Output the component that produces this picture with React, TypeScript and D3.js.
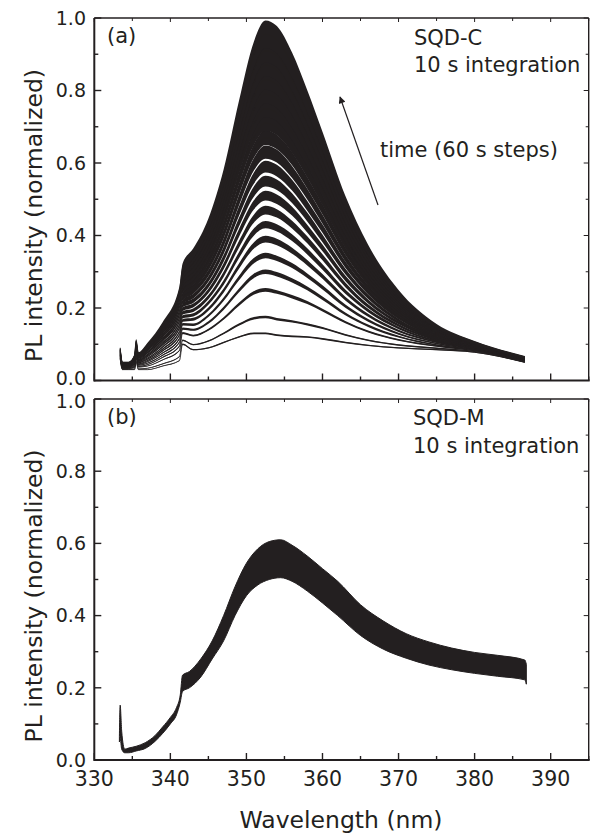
import React from 'react';
import * as d3 from 'd3';

// ---------- data ----------
const X_TICKS = [330, 340, 350, 360, 370, 380, 390];
const X_MINOR = [335, 345, 355, 365, 375, 385, 395];
const Y_TICKS = [0, 0.2, 0.4, 0.6, 0.8, 1.0];
const Y_MINOR = [0.1, 0.3, 0.5, 0.7, 0.9];

// Panel (a): SQD-C spectra recorded every 60 s (wavelength grid, nm)
const WAVELENGTHS_A = [333.4, 333.7, 334.5, 335.3, 335.5, 335.8, 337, 339, 341.2, 341.6, 343, 345, 347, 349, 351, 352.5, 354, 356, 358, 360, 363, 366, 370, 375, 380, 386.6];

const SPECTRA_A = [
  [0.06, 0.03, 0.03, 0.03, 0.05, 0.03, 0.03, 0.04, 0.055, 0.10, 0.085, 0.09, 0.105, 0.12, 0.13, 0.13, 0.125, 0.122, 0.12, 0.115, 0.105, 0.097, 0.09, 0.085, 0.078, 0.05],
  [0.062, 0.031, 0.031, 0.032, 0.053, 0.032, 0.034, 0.046, 0.066, 0.111, 0.099, 0.109, 0.130, 0.154, 0.172, 0.175, 0.169, 0.163, 0.155, 0.145, 0.126, 0.111, 0.098, 0.089, 0.080, 0.051],
  [0.064, 0.033, 0.033, 0.036, 0.059, 0.037, 0.040, 0.057, 0.083, 0.131, 0.124, 0.140, 0.171, 0.210, 0.242, 0.250, 0.244, 0.231, 0.215, 0.194, 0.161, 0.135, 0.112, 0.095, 0.082, 0.052],
  [0.066, 0.034, 0.034, 0.038, 0.062, 0.039, 0.044, 0.064, 0.095, 0.143, 0.140, 0.160, 0.199, 0.248, 0.289, 0.300, 0.293, 0.276, 0.254, 0.227, 0.184, 0.151, 0.121, 0.098, 0.084, 0.053],
  [0.068, 0.035, 0.035, 0.040, 0.066, 0.042, 0.048, 0.070, 0.106, 0.155, 0.154, 0.179, 0.224, 0.282, 0.331, 0.345, 0.337, 0.317, 0.289, 0.257, 0.205, 0.166, 0.129, 0.102, 0.085, 0.054],
  [0.070, 0.036, 0.036, 0.043, 0.069, 0.044, 0.052, 0.076, 0.116, 0.166, 0.169, 0.197, 0.248, 0.315, 0.373, 0.390, 0.382, 0.358, 0.325, 0.287, 0.226, 0.180, 0.137, 0.106, 0.087, 0.055],
  [0.071, 0.037, 0.037, 0.045, 0.072, 0.046, 0.055, 0.082, 0.126, 0.176, 0.181, 0.214, 0.270, 0.345, 0.410, 0.430, 0.421, 0.394, 0.356, 0.313, 0.245, 0.193, 0.145, 0.109, 0.088, 0.056],
  [0.072, 0.038, 0.038, 0.047, 0.075, 0.049, 0.059, 0.087, 0.135, 0.187, 0.194, 0.230, 0.293, 0.375, 0.447, 0.470, 0.461, 0.430, 0.388, 0.340, 0.264, 0.205, 0.152, 0.112, 0.089, 0.056],
  [0.074, 0.039, 0.039, 0.048, 0.078, 0.051, 0.062, 0.093, 0.145, 0.197, 0.207, 0.247, 0.315, 0.406, 0.485, 0.510, 0.500, 0.467, 0.419, 0.366, 0.282, 0.218, 0.159, 0.115, 0.090, 0.057],
  [0.075, 0.040, 0.040, 0.050, 0.081, 0.053, 0.066, 0.099, 0.154, 0.207, 0.220, 0.263, 0.337, 0.436, 0.522, 0.550, 0.540, 0.503, 0.451, 0.392, 0.301, 0.231, 0.166, 0.118, 0.092, 0.058],
  [0.077, 0.041, 0.041, 0.052, 0.084, 0.055, 0.069, 0.104, 0.164, 0.217, 0.233, 0.280, 0.359, 0.466, 0.559, 0.590, 0.579, 0.539, 0.482, 0.419, 0.320, 0.244, 0.174, 0.121, 0.093, 0.058],
  [0.078, 0.042, 0.042, 0.054, 0.086, 0.057, 0.072, 0.110, 0.173, 0.227, 0.246, 0.296, 0.381, 0.496, 0.597, 0.630, 0.619, 0.575, 0.514, 0.445, 0.338, 0.256, 0.181, 0.124, 0.094, 0.059],
  [0.080, 0.043, 0.043, 0.056, 0.089, 0.059, 0.076, 0.115, 0.183, 0.237, 0.258, 0.313, 0.403, 0.526, 0.634, 0.670, 0.658, 0.612, 0.545, 0.472, 0.357, 0.269, 0.188, 0.128, 0.096, 0.060],
  [0.081, 0.044, 0.044, 0.058, 0.092, 0.062, 0.079, 0.121, 0.192, 0.248, 0.271, 0.329, 0.425, 0.556, 0.671, 0.710, 0.698, 0.648, 0.577, 0.498, 0.376, 0.282, 0.196, 0.131, 0.097, 0.061],
  [0.083, 0.045, 0.045, 0.060, 0.095, 0.064, 0.083, 0.126, 0.202, 0.258, 0.284, 0.346, 0.447, 0.586, 0.709, 0.750, 0.738, 0.684, 0.609, 0.525, 0.394, 0.295, 0.203, 0.134, 0.098, 0.061],
  [0.084, 0.046, 0.046, 0.062, 0.098, 0.066, 0.086, 0.132, 0.211, 0.268, 0.297, 0.362, 0.469, 0.616, 0.746, 0.790, 0.777, 0.720, 0.640, 0.551, 0.413, 0.307, 0.210, 0.137, 0.100, 0.062],
  [0.085, 0.047, 0.047, 0.064, 0.101, 0.068, 0.089, 0.138, 0.220, 0.278, 0.310, 0.378, 0.491, 0.646, 0.783, 0.830, 0.816, 0.757, 0.671, 0.577, 0.432, 0.320, 0.217, 0.140, 0.101, 0.063],
  [0.087, 0.048, 0.048, 0.066, 0.104, 0.070, 0.093, 0.143, 0.230, 0.288, 0.323, 0.395, 0.513, 0.676, 0.821, 0.870, 0.856, 0.793, 0.703, 0.604, 0.450, 0.333, 0.225, 0.143, 0.102, 0.064],
  [0.088, 0.049, 0.049, 0.068, 0.107, 0.073, 0.096, 0.149, 0.239, 0.299, 0.336, 0.412, 0.535, 0.706, 0.858, 0.910, 0.896, 0.829, 0.735, 0.630, 0.469, 0.346, 0.232, 0.147, 0.104, 0.064],
  [0.09, 0.05, 0.05, 0.07, 0.11, 0.075, 0.10, 0.155, 0.25, 0.31, 0.35, 0.43, 0.56, 0.74, 0.90, 0.955, 0.94, 0.87, 0.77, 0.66, 0.49, 0.36, 0.24, 0.15, 0.105, 0.065],
];
// relative half-width of the noise band of each spectrum (grows with time)
const NOISE_A = [0.02, 0.02, 0.02, 0.021, 0.022, 0.023, 0.024, 0.025, 0.026, 0.027, 0.028, 0.029, 0.03, 0.031, 0.032, 0.033, 0.034, 0.035, 0.036, 0.04];

// Panel (b): SQD-M spectra, lower and upper edge of the noisy band
const WAVELENGTHS_B = [333.3, 333.4, 333.6, 334.0, 334.5, 335.5, 336.7, 338, 339, 340, 340.8, 341.3, 341.6, 342.5, 344, 345.5, 347, 348.5, 350, 351.5, 353, 354.5, 356, 358, 360, 362, 365, 368, 371, 374, 377, 380, 383, 386.6, 386.8];
const LOWER_B = [0.05, 0.06, 0.03, 0.02, 0.02, 0.025, 0.032, 0.052, 0.074, 0.10, 0.125, 0.16, 0.19, 0.20, 0.23, 0.28, 0.33, 0.40, 0.455, 0.485, 0.50, 0.505, 0.495, 0.468, 0.435, 0.40, 0.345, 0.307, 0.282, 0.263, 0.25, 0.24, 0.232, 0.222, 0.21];
const UPPER_B = [0.065, 0.152, 0.08, 0.03, 0.033, 0.038, 0.048, 0.068, 0.092, 0.118, 0.145, 0.18, 0.235, 0.245, 0.28, 0.33, 0.40, 0.48, 0.545, 0.585, 0.605, 0.61, 0.595, 0.565, 0.53, 0.495, 0.43, 0.385, 0.35, 0.327, 0.31, 0.298, 0.29, 0.277, 0.265];

// ---------- layout ----------
const WIDTH = 594;
const HEIGHT = 836;
const INK = '#231f20';
const FONT = '"DejaVu Sans", Verdana, sans-serif';
const TICK_FONT = 19;

const x = d3.scaleLinear().domain([330, 395]).range([94.3, 588.7]);
const yA = d3.scaleLinear().domain([0, 1]).range([380.5, 18]);
const yB = d3.scaleLinear().domain([0, 1]).range([760, 399]);

function Frame({ y, nudge }: { y: d3.ScaleLinear<number, number>; nudge: (t: number) => number }) {
  const [x0, x1] = x.range();
  const [y0, y1] = y.range();
  const fmt = d3.format('.1f');
  return (
    <g>
      <line x1={x0} x2={x1} y1={y1} y2={y1} stroke={INK} strokeWidth={1.4} />
      <line x1={x1} x2={x1} y1={y0} y2={y1} stroke={INK} strokeWidth={1.4} />
      <line x1={x0} x2={x1 + 1} y1={y0} y2={y0} stroke={INK} strokeWidth={2} />
      <line x1={x0} x2={x0} y1={y0 + 1} y2={y1} stroke={INK} strokeWidth={2} />
      {X_TICKS.map((t) => (
        <g key={'xm' + t}>
          <line x1={x(t)} x2={x(t)} y1={y0} y2={y0 - 7} stroke={INK} strokeWidth={1.4} />
          <line x1={x(t)} x2={x(t)} y1={y1} y2={y1 + 4} stroke={INK} strokeWidth={1} />
        </g>
      ))}
      {X_MINOR.map((t) => (
        <g key={'xn' + t}>
          <line x1={x(t)} x2={x(t)} y1={y0} y2={y0 - 4} stroke={INK} strokeWidth={1.4} />
          <line x1={x(t)} x2={x(t)} y1={y1} y2={y1 + 3} stroke={INK} strokeWidth={1} />
        </g>
      ))}
      {Y_TICKS.map((t) => (
        <g key={'ym' + t}>
          <line x1={x0} x2={x0 + 7} y1={y(t)} y2={y(t)} stroke={INK} strokeWidth={1.4} />
          <line x1={x1} x2={x1 - 5} y1={y(t)} y2={y(t)} stroke={INK} strokeWidth={1} />
          <text x={86} y={y(t) + nudge(t)} dy="0.36em" textAnchor="end" fontSize={TICK_FONT} fill={INK} fontFamily={FONT}>
            {fmt(t)}
          </text>
        </g>
      ))}
      {Y_MINOR.map((t) => (
        <g key={'yn' + t}>
          <line x1={x0} x2={x0 + 4} y1={y(t)} y2={y(t)} stroke={INK} strokeWidth={1.4} />
          <line x1={x1} x2={x1 - 3} y1={y(t)} y2={y(t)} stroke={INK} strokeWidth={1} />
        </g>
      ))}
    </g>
  );
}

export default function App() {
  const bandA = (vals: number[], nf: number) =>
    d3
      .area<number>()
      .x((_, i) => x(WAVELENGTHS_A[i]))
      .y0((d) => yA(d * (1 - nf)))
      .y1((d) => yA(d * (1 + nf)))
      .curve(d3.curveMonotoneX)(vals) || '';
  const lineA = d3
    .line<number>()
    .x((_, i) => x(WAVELENGTHS_A[i]))
    .y((d) => yA(d))
    .curve(d3.curveMonotoneX);
  const bandB =
    d3
      .area<number>()
      .x((_, i) => x(WAVELENGTHS_B[i]))
      .y0((_, i) => yB(LOWER_B[i]))
      .y1((_, i) => yB(UPPER_B[i]))
      .curve(d3.curveMonotoneX)(LOWER_B) || '';

  const yTitle = 'PL intensity (normalized)';

  return (
    <svg width={WIDTH} height={HEIGHT} style={{ position: 'absolute', left: 0, top: 0, background: '#fff' }}>
      <defs>
        <marker id="head" viewBox="0 0 10 10" refX="9" refY="5" markerWidth="13" markerHeight="7" markerUnits="userSpaceOnUse" orient="auto">
          <path d="M0,0 L10,5 L0,10 Z" fill={INK} />
        </marker>
      </defs>

      {/* panel (a) spectra */}
      <g>
        {SPECTRA_A.map((s, i) => (
          <g key={'a' + i}>
            <path d={bandA(s, NOISE_A[i])} fill={INK} stroke="none" />
            <path d={lineA(s) || ''} fill="none" stroke={INK} strokeWidth={0.8} />
          </g>
        ))}
      </g>

      {/* panel (b) spectrum */}
      <path d={bandB} fill={INK} stroke={INK} strokeWidth={1} />

      <Frame y={yA} nudge={(t) => (t === 0 ? -2 : 0)} />
      <Frame y={yB} nudge={(t) => (t === 1 ? 2 : 0)} />

      {X_TICKS.map((t) => (
        <text key={'xl' + t} x={x(t)} y={786} textAnchor="middle" fontSize={20.5} fill={INK} fontFamily={FONT}>
          {t}
        </text>
      ))}

      <text x={341} y={828} textAnchor="middle" fontSize={23.5} fill={INK} fontFamily={FONT}>
        Wavelength (nm)
      </text>
      <text transform="translate(41.5,215.5) rotate(-90)" textAnchor="middle" fontSize={23.5} fill={INK} fontFamily={FONT}>
        {yTitle}
      </text>
      <text transform="translate(41.5,596) rotate(-90)" textAnchor="middle" fontSize={23.5} fill={INK} fontFamily={FONT}>
        {yTitle}
      </text>

      {/* annotations panel (a) */}
      <text x={107} y={43} fontSize={21} fill={INK} fontFamily={FONT}>(a)</text>
      <text x={414} y={45} fontSize={21} fill={INK} fontFamily={FONT}>SQD-C</text>
      <text x={414} y={72} fontSize={21} fill={INK} fontFamily={FONT}>10 s integration</text>
      <text x={380} y={157} fontSize={21} fill={INK} fontFamily={FONT}>time (60 s steps)</text>
      <line x1={378} y1={205} x2={340} y2={97} stroke={INK} strokeWidth={1.2} markerEnd="url(#head)" />

      {/* annotations panel (b) */}
      <text x={107} y={424} fontSize={21} fill={INK} fontFamily={FONT}>(b)</text>
      <text x={413} y={425} fontSize={21} fill={INK} fontFamily={FONT}>SQD-M</text>
      <text x={413} y={453} fontSize={21} fill={INK} fontFamily={FONT}>10 s integration</text>
    </svg>
  );
}
